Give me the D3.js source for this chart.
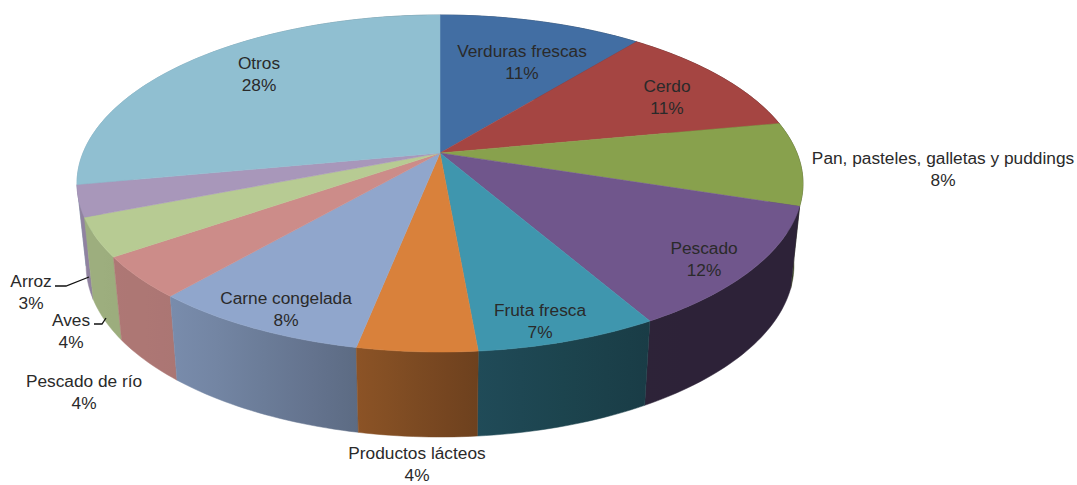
<!DOCTYPE html>
<html lang="es">
<head>
<meta charset="UTF-8"/>
<title>Pie</title>
<script src="https://d3js.org/d3.v7.min.js"></script>
<style>
    html, body { margin: 0; background: #fff; }
    text { font-family: "Liberation Sans", sans-serif; font-size: 17.3px; fill: #2a2a2a; text-anchor: middle; }
</style>
</head>
<body>
<div id="chart"></div>
<script>
    // slices, clockwise from twelve o'clock
    const categories = ["Verduras frescas", "Cerdo", "Pan, pasteles, galletas y puddings", "Pescado", "Fruta fresca",
        "Productos lácteos", "Carne congelada", "Pescado de río", "Aves", "Arroz", "Otros"];
    const shares = [10.8, 11.2, 8, 11.75, 6.85, 4.49, 8.21, 4, 3.7, 3, 28];
    const colours = ["#426ea3", "#a54542", "#88a14d", "#70568c", "#3f96ae", "#d9813b",
        "#90a6cc", "#cc8c89", "#b7cb93", "#a897ba", "#90bfd1"];

    // label anchors: centre x, first baseline
    const labelPos = [[522, 57], [667, 92], [943, 164], [704, 254], [540, 316],
        [417, 459], [286, 304], [84, 387], [71, 326], [31, 287], [259, 69]];
    const leaders = [[[55, 286], [66, 286], [89, 277]], [[94, 324], [102, 324], [106, 318]]];

    const w = 1077, h = 485;

    // perspective view of the disc
    const cx = 440, cy = 153, a = 357, b = 163, k = 0.181;
    const depthScale = 0.975, bottomY = 234, bottomSy = 1.02;

    function project(angle, bottom) {
        let u = Math.sin(angle), v = -Math.cos(angle);
        let x = a * u / (1 - k * v), y = b * v / (1 - k * v);
        if (bottom) return [cx + depthScale * x, bottomY + bottomSy * y];
        return [cx + x, cy + y];
    }
    function arcPoints(start, end, bottom) {
        let n = Math.max(2, Math.ceil((end - start) / 0.02));
        return d3.range(n + 1).map(i => project(start + (end - start) * i / n, bottom));
    }

    const colour = d3.scaleOrdinal().domain(categories).range(colours);
    const shade = d3.scaleLinear()
        .domain([80, 180, 360, 480, 650, 800])
        .range([0.86, 0.84, 0.64, 0.5, 0.4, 0.4])
        .clamp(true);
    const pie = d3.pie().sort(null).value((d, i) => shares[i]);
    const line = d3.line();
    const arcs = pie(categories);

    const svg = d3.select("#chart").append("svg").attr("width", w).attr("height", h).style("display", "block");
    const defs = svg.append("defs");

    function darker(c, f) {
        let col = d3.rgb(c);
        return d3.rgb(col.r * f, col.g * f, col.b * f).formatHex();
    }

    // walls first, farthest slice first, then the top face over them
    const walls = arcs.slice().sort((p, q) =>
        -Math.cos((p.startAngle + p.endAngle) / 2) - -Math.cos((q.startAngle + q.endAngle) / 2));

    walls.forEach((d, i) => {
        let topPts = arcPoints(d.startAngle, d.endAngle, false);
        let botPts = arcPoints(d.startAngle, d.endAngle, true);
        let pts = topPts.concat(botPts.reverse());
        let x0 = d3.min(pts, p => p[0]), x1 = d3.max(pts, p => p[0]);
        let id = "wall" + i;
        let grad = defs.append("linearGradient").attr("id", id)
            .attr("gradientUnits", "userSpaceOnUse")
            .attr("x1", x0).attr("x2", x1).attr("y1", 0).attr("y2", 0);
        d3.range(5).forEach(s => {
            let t = s / 4;
            grad.append("stop").attr("offset", t)
                .attr("stop-color", darker(colour(d.data), shade(x0 + (x1 - x0) * t)));
        });
        svg.append("path").attr("d", line(pts) + "Z")
            .attr("fill", `url(#${id})`).attr("stroke", `url(#${id})`).attr("stroke-width", 0.5);
    });

    svg.selectAll(".top").data(arcs).join("path")
        .attr("class", "top")
        .attr("d", d => line([[cx, cy]].concat(arcPoints(d.startAngle, d.endAngle, false))) + "Z")
        .attr("fill", d => colour(d.data))
        .attr("stroke", d => colour(d.data))
        .attr("stroke-width", 0.5);

    svg.selectAll(".leader").data(leaders).join("path")
        .attr("class", "leader")
        .attr("d", d => line(d))
        .attr("fill", "none").attr("stroke", "#111").attr("stroke-width", 1.3);

    const labels = svg.selectAll(".label").data(arcs).join("text")
        .attr("class", "label")
        .attr("transform", (d, i) => `translate(${labelPos[i][0]},${labelPos[i][1]})`);
    labels.append("tspan").attr("x", 0).attr("y", 0).text(d => d.data);
    labels.append("tspan").attr("x", 0).attr("y", 22).text((d, i) => Math.round(shares[i]) + "%");
</script>
</body>
</html>
